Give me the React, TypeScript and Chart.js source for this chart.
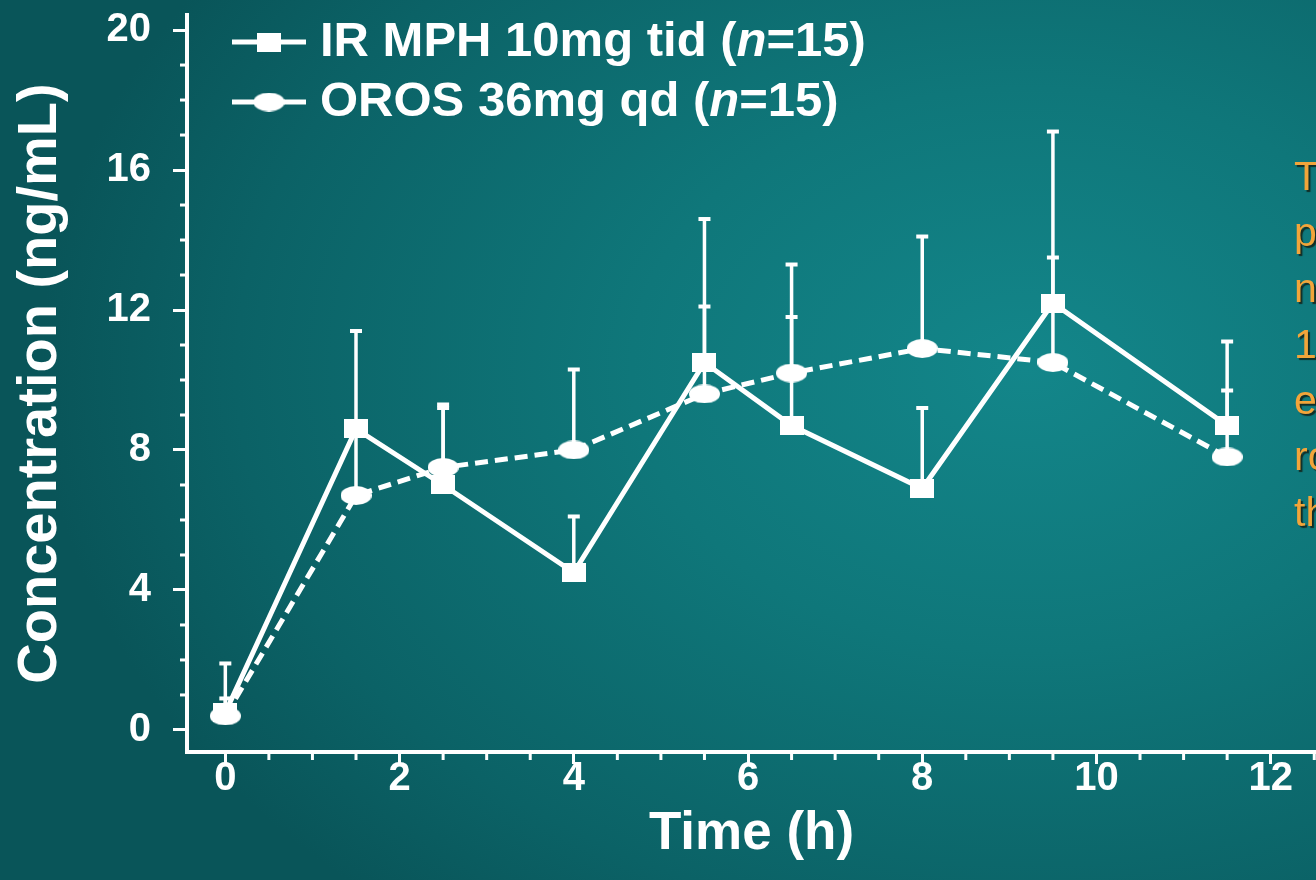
import React, { useEffect, useRef } from 'react';
import { Chart, registerables } from 'chart.js';

Chart.register(...registerables);

// ---- data ----
const times = [0, 1.5, 2.5, 4, 5.5, 6.5, 8, 9.5, 11.5];
const irMean = [0.5, 8.6, 7.0, 4.5, 10.5, 8.7, 6.9, 12.2, 8.7];
const irSD = [1.4, 2.8, 2.2, 1.6, 4.1, 4.6, 2.3, 4.9, 2.4];
const orosMean = [0.4, 6.7, 7.5, 8.0, 9.6, 10.2, 10.9, 10.5, 7.8];
const orosSD = [0.5, 1.8, 1.8, 2.3, 2.5, 1.6, 3.2, 3.0, 1.9];

const xTicks = [0, 2, 4, 6, 8, 10, 12];
const xMinorTicks = [0.5, 1, 1.5, 2.5, 3, 3.5, 4.5, 5, 5.5, 6.5, 7, 7.5, 8.5, 9, 9.5, 10.5, 11, 11.5, 12.5];
const yTicks = [0, 4, 8, 12, 16, 20];
const yMinorTicks = [1, 2, 3, 5, 6, 7, 9, 10, 11, 13, 14, 15, 17, 18, 19];

const seriesNames = ['IR MPH 10mg tid', 'OROS 36mg qd'];
const seriesN = [15, 15];
const xTitle = 'Time (h)';
const yTitle = 'Concentration (ng/mL)';
const sideText = ['The', 'plasma', 'nearly', '12-hour', 'exposure', 'rose', 'through'];

const FONT = '"Liberation Sans", Arial, sans-serif';
const WHITE = '#ffffff';

function makeMarker(w: number, h: number, shape: 'rect' | 'ellipse') {
  const c = document.createElement('canvas');
  c.width = w;
  c.height = h;
  const g = c.getContext('2d')!;
  g.fillStyle = WHITE;
  if (shape === 'rect') {
    g.fillRect(0, 0, w, h);
  } else {
    g.beginPath();
    g.ellipse(w / 2, h / 2, w / 2, h / 2, 0, 0, Math.PI * 2);
    g.fill();
  }
  return c;
}

export default function App() {
  const ref = useRef<HTMLCanvasElement | null>(null);

  useEffect(() => {
    if (!ref.current) return;
    const rectMarker = makeMarker(24, 19, 'rect');
    const ellMarker = makeMarker(31, 19, 'ellipse');

    const extras = {
      id: 'extras',
      beforeDatasetsDraw(chart: any) {
        const { ctx } = chart;
        const x = chart.scales.x;
        const y = chart.scales.y;
        ctx.save();
        ctx.strokeStyle = WHITE;
        ctx.fillStyle = WHITE;
        ctx.lineWidth = 3.5;
        const sets: [number[], number[]][] = [
          [irMean, irSD],
          [orosMean, orosSD],
        ];
        sets.forEach(([m, sd]) => {
          times.forEach((t, i) => {
            const px = x.getPixelForValue(t);
            const y0 = y.getPixelForValue(m[i]);
            const y1 = y.getPixelForValue(m[i] + sd[i]);
            ctx.beginPath();
            ctx.moveTo(px, y0);
            ctx.lineTo(px, y1);
            ctx.stroke();
            ctx.fillRect(px - 6, y1 - 2, 12, 4);
          });
        });
        ctx.restore();
      },
      afterDraw(chart: any) {
        const { ctx } = chart;
        const x = chart.scales.x;
        const y = chart.scales.y;
        ctx.save();
        // minor ticks
        ctx.strokeStyle = WHITE;
        ctx.lineWidth = 3;
        const yAxisX = chart.chartArea.left;
        yMinorTicks.forEach((v) => {
          const py = y.getPixelForValue(v);
          ctx.beginPath();
          ctx.moveTo(yAxisX - 7, py);
          ctx.lineTo(yAxisX, py);
          ctx.stroke();
        });
        const xAxisY = chart.chartArea.bottom;
        xMinorTicks.forEach((v) => {
          const px = x.getPixelForValue(v);
          ctx.beginPath();
          ctx.moveTo(px, xAxisY);
          ctx.lineTo(px, xAxisY + 8);
          ctx.stroke();
        });

        // legend
        const legendY = [42, 102];
        const markers = [rectMarker, ellMarker];
        seriesNames.forEach((name, i) => {
          const ly = legendY[i];
          ctx.strokeStyle = WHITE;
          ctx.lineWidth = 5;
          ctx.setLineDash([]);
          ctx.beginPath();
          ctx.moveTo(232, ly);
          ctx.lineTo(306, ly);
          ctx.stroke();
          const mk = markers[i];
          ctx.drawImage(mk, 269 - mk.width / 2, ly - mk.height / 2);
          ctx.fillStyle = WHITE;
          ctx.textBaseline = 'middle';
          ctx.textAlign = 'left';
          let tx = 320;
          const bold = `bold 49px ${FONT}`;
          const ital = `italic bold 49px ${FONT}`;
          const parts: [string, string][] = [
            [name + ' (', bold],
            ['n', ital],
            ['=' + seriesN[i] + ')', bold],
          ];
          parts.forEach(([s, f]) => {
            ctx.font = f;
            ctx.fillText(s, tx, ly);
            tx += ctx.measureText(s).width;
          });
        });

        // clipped side text
        ctx.font = `41px ${FONT}`;
        ctx.textBaseline = 'alphabetic';
        ctx.textAlign = 'left';
        ctx.shadowColor = 'rgba(20,20,10,0.75)';
        ctx.shadowOffsetX = 2;
        ctx.shadowOffsetY = 2;
        ctx.shadowBlur = 1;
        ctx.fillStyle = '#f2a53a';
        sideText.forEach((s, i) => {
          ctx.fillText(s, 1294, 190 + i * 56);
        });
        ctx.restore();
      },
    };

    const chart = new Chart(ref.current, {
      type: 'line',
      data: {
        datasets: [
          {
            label: seriesNames[0],
            data: times.map((t, i) => ({ x: t, y: irMean[i] })),
            borderColor: WHITE,
            backgroundColor: WHITE,
            borderWidth: 5,
            tension: 0,
            pointStyle: rectMarker as any,
            pointRadius: 12,
          },
          {
            label: seriesNames[1],
            data: times.map((t, i) => ({ x: t, y: orosMean[i] })),
            borderColor: WHITE,
            backgroundColor: WHITE,
            borderWidth: 5,
            borderDash: [13, 7],
            tension: 0,
            pointStyle: ellMarker as any,
            pointRadius: 12,
          },
        ],
      },
      options: {
        animation: false,
        responsive: false,
        maintainAspectRatio: false,
        layout: { autoPadding: false, padding: { top: 15, right: 0, left: 0, bottom: 0 } },
        plugins: { legend: { display: false }, tooltip: { enabled: false } },
        scales: {
          x: {
            type: 'linear',
            min: -0.44,
            max: 12.52,
            afterBuildTicks: (a: any) => {
              a.ticks = xTicks.map((v) => ({ value: v }));
            },
            afterFit: (s: any) => {
              s.height = 128;
              s.paddingLeft = 0;
              s.paddingRight = 0;
            },
            border: { display: true, color: WHITE, width: 4 },
            grid: {
              drawOnChartArea: false,
              drawTicks: true,
              tickLength: 12,
              tickWidth: 3,
              tickColor: WHITE,
            },
            ticks: {
              color: WHITE,
              font: { family: FONT, size: 40, weight: 'bold' },
              padding: -9,
              maxRotation: 0,
              autoSkip: false,
            },
            title: {
              display: true,
              text: xTitle,
              color: WHITE,
              font: { family: FONT, size: 53, weight: 'bold' },
              padding: { top: 0, bottom: 14 },
            },
          },
          y: {
            type: 'linear',
            min: -0.63,
            max: 20.43,
            afterBuildTicks: (a: any) => {
              a.ticks = yTicks.map((v) => ({ value: v }));
            },
            afterFit: (s: any) => {
              s.width = 187;
              s.paddingTop = 0;
              s.paddingBottom = 0;
            },
            border: { display: true, color: WHITE, width: 4 },
            grid: {
              drawOnChartArea: false,
              drawTicks: true,
              tickLength: 14,
              tickWidth: 3,
              tickColor: WHITE,
            },
            ticks: {
              color: WHITE,
              font: { family: FONT, size: 40, weight: 'bold' },
              padding: 22,
              autoSkip: false,
            },
            title: {
              display: true,
              text: yTitle,
              color: WHITE,
              font: { family: FONT, size: 56, weight: 'bold' },
              padding: { top: 7, bottom: 0 },
            },
          },
        },
      },
      plugins: [extras],
    } as any);

    return () => chart.destroy();
  }, []);

  return (
    <div
      style={{
        position: 'fixed',
        left: 0,
        top: 0,
        width: 1316,
        height: 880,
        overflow: 'hidden',
        background:
          'radial-gradient(ellipse 75% 80% at 78% 42%, #13868a 0%, #0f777a 40%, #0b6266 80%, #095559 100%)',
      }}
    >
      <canvas ref={ref} width={1316} height={880} style={{ display: 'block' }} />
    </div>
  );
}
